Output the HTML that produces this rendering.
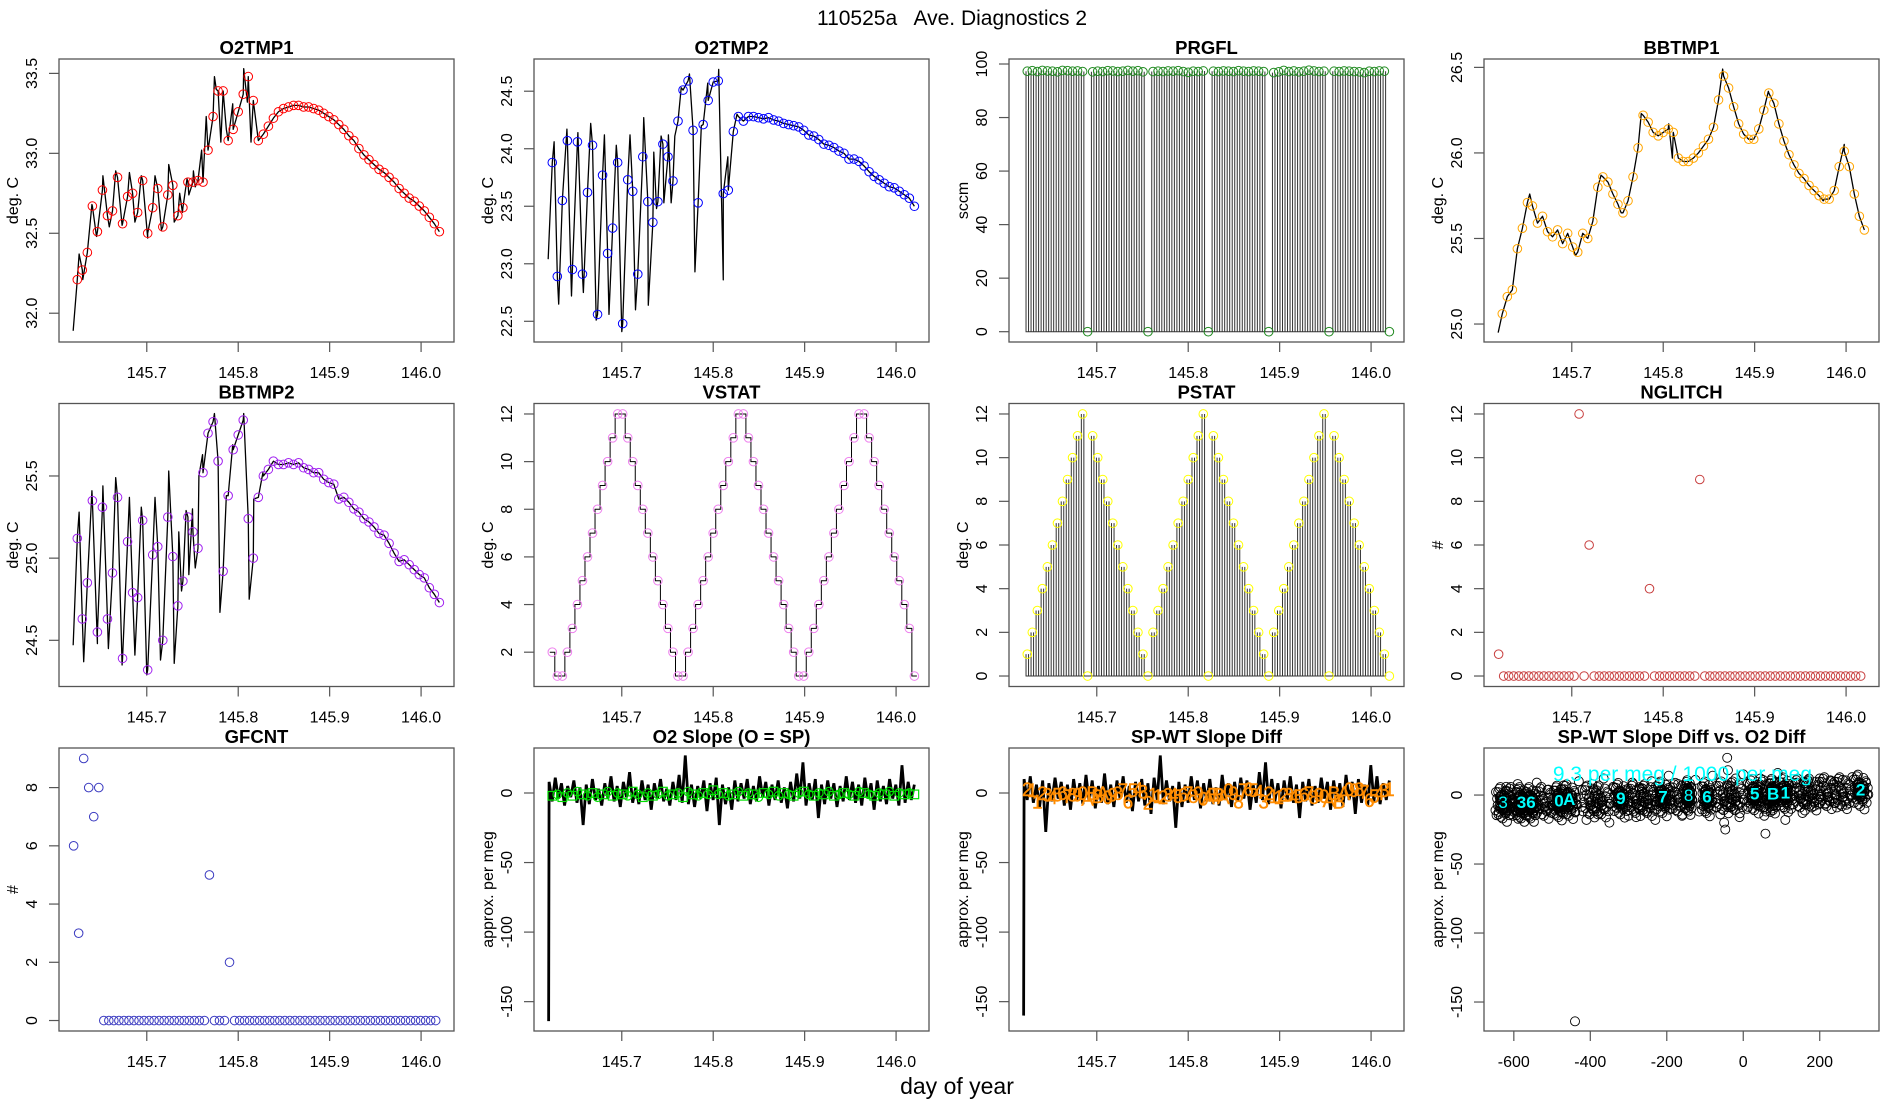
<!DOCTYPE html>
<html><head><meta charset="utf-8"><title>110525a Ave. Diagnostics 2</title>
<style>
html,body{margin:0;padding:0;background:#fff;}
svg{display:block;font-family:"Liberation Sans",Arial,sans-serif;}
</style></head>
<body>
<svg id="chart" width="1900" height="1100" viewBox="0 0 1900 1100" xmlns="http://www.w3.org/2000/svg">
<rect x="0" y="0" width="1900" height="1100" fill="#fff"/>
<text x="952" y="25" text-anchor="middle" font-size="21" style="white-space:pre">110525a   Ave. Diagnostics 2</text>
<text x="957" y="1094" text-anchor="middle" font-size="23">day of year</text>
</svg>
<script>
// ---------- data ----------
const timeTicks = [145.7, 145.8, 145.9, 146.0];
const timeTickLabels = ['145.7', '145.8', '145.9', '146.0'];

const o2tmp1Circ = [32.21,32.27,32.38,32.67,32.51,32.77,32.61,32.64,32.85,32.56,32.73,32.75,32.63,32.83,32.50,32.66,32.78,32.54,32.74,32.80,32.61,32.66,32.82,32.82,32.83,32.82,33.02,33.23,33.39,33.39,33.08,33.15,33.26,33.37,33.48,33.33,33.08,33.12,33.17,33.22,33.26,33.28,33.29,33.30,33.30,33.29,33.29,33.28,33.27,33.25,33.23,33.21,33.18,33.15,33.11,33.08,33.03,32.99,32.96,32.93,32.90,32.88,32.85,32.82,32.78,32.75,32.72,32.70,32.67,32.64,32.60,32.56,32.51];
const o2tmp1LineT = [145.6195,145.626,145.630,145.640,145.645,145.652,145.659,145.666,145.673,145.681,145.687,145.694,145.701,145.709,145.716,145.724,145.730,145.736,145.739,145.744,145.746,145.751,145.753,145.760,145.765,145.774,145.776,145.781,145.787,145.794,145.806,145.810,145.814];
const o2tmp1LineV = [31.89,32.37,32.21,32.68,32.48,32.86,32.54,32.89,32.55,32.88,32.57,32.86,32.47,32.86,32.52,32.93,32.57,32.75,32.63,32.84,32.74,32.89,32.79,33.02,33.23,33.48,33.40,33.07,33.15,33.31,33.53,33.32,33.07];

const o2tmp2Circ = [23.88,22.89,23.55,24.07,22.95,24.06,22.91,23.62,24.03,22.56,23.77,23.09,23.31,23.88,22.48,23.73,23.63,22.91,23.93,23.54,23.36,23.54,24.04,23.93,23.72,24.24,24.51,24.59,24.16,23.53,24.21,24.42,24.58,24.59,23.61,23.64,24.15,24.28,24.24,24.28,24.28,24.27,24.26,24.27,24.25,24.24,24.22,24.21,24.20,24.19,24.16,24.12,24.11,24.08,24.04,24.03,24.01,23.98,23.96,23.91,23.91,23.89,23.85,23.80,23.76,23.73,23.70,23.67,23.66,23.63,23.60,23.57,23.50];
const o2tmp2LineT = [145.6195,145.626,145.631,145.640,145.645,145.652,145.658,145.666,145.672,145.681,145.686,145.694,145.700,145.709,145.715,145.724,145.729,145.735,145.738,145.743,145.746,145.751,145.754,145.758,145.765,145.774,145.780,145.787,145.794,145.806,145.811,145.816,145.826];
const o2tmp2LineV = [23.04,24.06,22.65,24.17,22.72,24.14,22.75,24.22,22.51,24.12,22.56,24.03,22.41,24.12,22.60,24.27,22.64,23.97,23.48,24.11,23.53,24.12,23.53,24.11,24.53,24.65,22.93,24.20,24.57,24.69,22.86,23.93,24.30];

const prgflCirc = [97.3,97.5,97.2,97.6,97.4,97.3,97.1,97.6,97.5,97.3,97.4,97.2,0,97.1,97.3,97.2,97.5,97.4,97.2,97.3,97.6,97.3,97.5,97.1,0,97.2,97.3,97.2,97.4,97.3,97.5,97.2,96.9,97.3,97.2,97.4,0,97.3,97.2,97.4,97.3,97.2,97.5,97.3,97.2,97.4,97.3,97.2,0,96.8,97.1,97.6,97.2,97.4,97.1,97.3,97.7,97.4,97.2,97.3,0,97.3,97.2,97.4,97.3,97.2,97.1,96.8,97.3,97.2,97.4,97.3,0];

const bbtmp1Circ = [25.06,25.16,25.20,25.44,25.56,25.71,25.69,25.59,25.63,25.54,25.51,25.55,25.47,25.53,25.45,25.42,25.53,25.50,25.60,25.80,25.86,25.83,25.76,25.70,25.65,25.72,25.86,26.03,26.22,26.18,26.12,26.10,26.12,26.14,26.12,25.97,25.95,25.95,25.97,26.00,26.04,26.08,26.15,26.31,26.45,26.38,26.27,26.17,26.11,26.08,26.08,26.14,26.25,26.35,26.29,26.17,26.07,25.99,25.93,25.88,25.85,25.81,25.78,25.75,25.73,25.73,25.78,25.92,26.01,25.92,25.76,25.63,25.55];
const bbtmp1LineT = [145.6195,145.654,145.704,145.732,145.754,145.776,145.806,145.810,145.865,145.915,145.975,145.998];
const bbtmp1LineV = [24.95,25.76,25.40,25.87,25.65,26.23,26.17,25.97,26.49,26.36,25.72,26.05];

const bbtmp2Circ = [25.12,24.63,24.85,25.35,24.55,25.31,24.63,24.91,25.37,24.39,25.10,24.79,24.76,25.23,24.32,25.02,25.07,24.50,25.25,25.01,24.71,24.86,25.25,25.16,25.06,25.52,25.76,25.83,25.59,24.92,25.38,25.66,25.75,25.84,25.24,25.00,25.37,25.50,25.54,25.59,25.57,25.57,25.58,25.57,25.58,25.55,25.54,25.52,25.52,25.48,25.46,25.45,25.36,25.37,25.34,25.30,25.28,25.24,25.22,25.19,25.15,25.14,25.09,25.03,24.98,24.99,24.96,24.93,24.90,24.88,24.82,24.78,24.73];
const bbtmp2LineT = [145.6195,145.626,145.631,145.640,145.646,145.652,145.658,145.666,145.673,145.681,145.687,145.694,145.700,145.709,145.715,145.724,145.730,145.735,145.738,145.743,145.746,145.750,145.753,145.757,145.761,145.774,145.780,145.787,145.794,145.806,145.812,145.817,145.827];
const bbtmp2LineV = [24.47,25.28,24.37,25.41,24.48,25.44,24.45,25.49,24.35,25.37,24.41,25.31,24.29,25.37,24.38,25.53,24.36,25.16,24.80,25.29,24.90,25.30,24.94,25.50,25.63,25.88,24.67,25.38,25.69,25.88,24.75,25.36,25.52];

const vstat = [2,1,1,2,3,4,5,6,7,8,9,10,11,12,12,11,10,9,8,7,6,5,4,3,2,1,1,2,3,4,5,6,7,8,9,10,11,12,12,11,10,9,8,7,6,5,4,3,2,1,1,2,3,4,5,6,7,8,9,10,11,12,12,11,10,9,8,7,6,5,4,3,1];
const pstat = [1,2,3,4,5,6,7,8,9,10,11,12,0,11,10,9,8,7,6,5,4,3,2,1,0,2,3,4,5,6,7,8,9,10,11,12,0,11,10,9,8,7,6,5,4,3,2,1,0,2,3,4,5,6,7,8,9,10,11,12,0,11,10,9,8,7,6,5,4,3,2,1,0];
const nglitch = [1,0,0,0,0,0,0,0,0,0,0,0,0,0,0,0,12,0,6,0,0,0,0,0,0,0,0,0,0,0,4,0,0,0,0,0,0,0,0,0,9,0,0,0,0,0,0,0,0,0,0,0,0,0,0,0,0,0,0,0,0,0,0,0,0,0,0,0,0,0,0,0,0];
const gfcnt = [6,3,9,8,7,8,0,0,0,0,0,0,0,0,0,0,0,0,0,0,0,0,0,0,0,0,0,5,0,0,0,2,0,0,0,0,0,0,0,0,0,0,0,0,0,0,0,0,0,0,0,0,0,0,0,0,0,0,0,0,0,0,0,0,0,0,0,0,0,0,0,0,0];

const o2Slope = [-164,8,-6,11,-4,7,-9,5,-3,9,-7,4,-23,6,-8,10,-5,3,-9,7,-4,12,-6,5,-10,8,-3,15,-7,4,-8,9,-5,6,-12,7,-4,10,-6,3,-9,8,-5,13,-7,27,-8,6,-10,5,-4,9,-13,7,-5,11,-23,6,-8,4,-12,9,-6,7,-4,10,-8,5,-6,12,-3,8,-9,6,-5,9,-7,4,-11,8,-6,14,-4,22,-9,7,-5,10,-18,6,-8,9,-4,7,-10,5,-6,12,-5,8,-7,6,-9,11,-4,7,-12,9,-6,5,-8,10,-4,6,-9,20,-7,8,-5,6];
const o2SlopeSym = [-2,-1,-3,0,-2,1,-1,-2,0,-3,-1,1,-2,0,-1,-2,1,-1,-3,0,-2,-1,1,-2,-1,0,-3,1,-1,-2,0,-1,2,-1,0,-2,-1,1,-2,0,-1,-3,0,-1,1,-2,0,-1,-2,0,1,-1,-2,0,-1,1,-2,-1,0,-1,-2,1,0,-1,-2,0,-1,1,-2,0,-1,0,-1];
const spwtDiff = [-160,10,-5,12,-7,6,-10,9,-28,7,-6,11,-4,8,-9,6,-12,10,-5,7,-8,13,-6,9,-11,5,-7,14,-8,6,-10,9,-4,12,-7,5,-13,8,-6,10,-9,7,-15,11,-5,27,-8,9,-6,5,-25,8,-10,6,-7,12,-5,9,-11,7,-6,10,-8,4,-9,13,-5,7,-10,8,-6,11,-4,9,-12,6,-7,15,-5,22,-8,10,-6,7,-11,9,-5,12,-7,6,-18,8,-6,10,-9,5,-7,11,-4,8,-12,9,-6,7,-10,13,-5,8,-15,10,-7,6,-9,20,-6,12,-8,7,-5,9];
const spwtSym = [3,2,-6,0,-1,-3,-1,0,-2,-1,-1,0,-4,0,-2,0,-3,-1,0,2,-6,2,3,1,-7,-1,-2,-3,-1,-1,-2,-1,0,-2,0,-4,-3,-1,-1,-3,2,0,-6,2,3,2,1,-6,0,-2,-3,-1,-1,-2,-2,-1,0,-3,-1,-2,-5,0,-6,0,3,2,3,1,-5,-2,0,2,3];

const clusterX = [-628,-580,-555,-482,-455,-320,-210,-143,-95,30,78,110,307];
const clusterY = [-5,-5,-5,-4,-3,-2,-1,0,-1,1,1,2,4];
const clusterW = [20,15,15,15,20,20,20,10,15,20,10,15,20];
const clusterLabels = ['3','3','6','0','A','9','7','8','6','5','B','1','2'];
const bandX = [-600,-520,-400,-370,-280,-250,-170,-50,-20,60,150,180,220,260];
const bandY = [-4,-4,-3,-3,-2,-2,-1,0,0,1,2,2,3,3];
const jitterDx = [-12,-8,-4,0,4,8,12,-10,-6,-2,2,6,10,-14,-9,-3,3,9,14,-7,-1,5,11,-11,-5,1,7,13,-13,0];
const jitterDy = [-8,-6,-9,-4,-7,-5,-3,-2,3,1,-1,2,4,-5,6,0,-6,5,-3,8,-10,7,-8,2,9,-4,-12,1,6,-2];
const bgX = [-640,-620,-600,-590,-565,-540,-525,-510,-500,-470,-440,-430,-410,-395,-380,-365,-350,-340,-300,-290,-280,-265,-250,-240,-230,-195,-185,-170,-160,-125,-115,-80,-70,-60,-50,-40,-30,-20,-10,0,10,45,55,60,90,125,140,155,170,185,200,215,230,245,260,270,285];
const bgY = [-14,6,-12,8,-15,9,-10,4,-8,7,-12,10,-18,8,-14,12,-20,6,-15,9,-16,5,-12,10,-18,14,-10,8,-15,11,-12,14,-9,-14,-20,18,-8,12,-16,15,-10,12,-15,-12,16,-10,9,-13,10,-8,12,-6,10,-9,11,-7,13];
const outX = [-440,-47,58,-42,110];
const outY = [-164,-25,-28,27,-18];
const diffTicks = [-600,-400,-200,0,200];
const slopeTicks = [0,-50,-100,-150];

// ---------- drawing ----------
const NS = 'http://www.w3.org/2000/svg';
const svg = document.getElementById('chart');
const T0 = 145.624, DT = 0.0055;
const circT = vstat.map((_, i) => T0 + i * DT);
function mk(tag, parent, attrs) {
  const e = document.createElementNS(NS, tag);
  for (const k in attrs) e.setAttribute(k, attrs[k]);
  parent.appendChild(e);
  return e;
}
function pathOf(pts, sx, sy) {
  return pts.map((p, i) => (i ? 'L' : 'M') + sx(p[0]).toFixed(2) + ' ' + sy(p[1]).toFixed(2)).join('');
}
function panel(col, row, o) {
  const L = 59 + 475 * col, T = 59 + 344.5 * row, W = 395, H = 283;
  const g = mk('g', svg, {});
  
  
  const xmin = o.xmin !== undefined ? o.xmin : 145.604, xmax = o.xmax !== undefined ? o.xmax : 146.036;
  const sx = v => L + (v - xmin) / (xmax - xmin) * W;
  const sy = v => T + H - (v - o.ymin) / (o.ymax - o.ymin) * H;
  const fr = mk('rect', g, {x: L, y: T, width: W, height: H, fill: 'none', stroke: '#555', 'stroke-width': 1.3});
  
  
  const tt = mk('text', g, {x: L + W / 2, y: T - 5, 'text-anchor': 'middle', 'font-size': 18.5, 'font-weight': 'bold'});
  tt.textContent = o.title;
  
  
  const xt = o.xticks || timeTicks, xl = o.xlabels || timeTickLabels;
  xt.forEach((v, i) => {
    const tk = mk('line', g, {x1: sx(v), x2: sx(v), y1: T + H, y2: T + H + 10, stroke: '#555', 'stroke-width': 1.2});
    
    
    const lb = mk('text', g, {x: sx(v), y: T + H + 36, 'text-anchor': 'middle', 'font-size': 16});
    lb.textContent = xl[i];
    
    
  });
  o.yticks.forEach((v, i) => {
    const y = sy(v);
    const tk = mk('line', g, {x1: L - 10, x2: L, y1: y, y2: y, stroke: '#555', 'stroke-width': 1.2});
    
    
    const lb = mk('text', g, {x: L - 22, y: y, 'text-anchor': 'middle', 'font-size': 16, transform: 'rotate(-90 ' + (L - 22) + ' ' + y + ')'});
    lb.textContent = o.ylabels[i];
    
    
  });
  const yt = mk('text', g, {x: L - 41, y: T + H / 2, 'text-anchor': 'middle', 'font-size': 16, transform: 'rotate(-90 ' + (L - 41) + ' ' + (T + H / 2) + ')'});
  yt.textContent = o.ylab;
  
  
  return {g, sx, sy};
}
function circles(p, ts, vs, color, name) {
  vs.forEach((v, i) => {
    if (v === null) return;
    const c = mk('circle', p.g, {cx: p.sx(ts[i]), cy: p.sy(v), r: 4.3, fill: 'none', stroke: color, 'stroke-width': 1});
    
    
  });
}
function tempLine(p, lt, lv, circV, cutoff) {
  const pts = lt.map((t, i) => [t, lv[i]]);
  circV.forEach((v, i) => { if (circT[i] >= cutoff) pts.push([circT[i], v]); });
  pts.sort((a, b) => a[0] - b[0]);
  const ln = mk('path', p.g, {d: pathOf(pts, p.sx, p.sy), fill: 'none', stroke: '#000', 'stroke-width': 1.3, 'stroke-linejoin': 'round'});
  
  
}
function spikes(p, vals, name) {
  const pts = [];
  vals.forEach((v, i) => {
    if (v <= 0) return;
    [-0.25, 0.25].forEach(k => {
      const t = circT[i] + k * DT;
      pts.push([t, 0], [t, v], [t, 0]);
    });
  });
  const ln = mk('path', p.g, {d: pathOf(pts, p.sx, p.sy), fill: 'none', stroke: '#333', 'stroke-width': 1});
  
  
}
function noiseLine(p, vals) {
  const n = vals.length;
  const pts = vals.map((v, i) => [i === 0 ? 145.62 : 145.6205 + (i - 1) * 0.3995 / (n - 2), v]);
  const ln = mk('path', p.g, {d: pathOf(pts, p.sx, p.sy), fill: 'none', stroke: '#000', 'stroke-width': 2.8});
  
  
}
const degLab = 'deg. C';
// Row 0
let p = panel(0, 0, {name: 'panel-o2tmp1', title: 'O2TMP1', ylab: degLab, ymin: 31.82, ymax: 33.59, yticks: [32, 32.5, 33, 33.5], ylabels: ['32.0', '32.5', '33.0', '33.5']});
tempLine(p, o2tmp1LineT, o2tmp1LineV, o2tmp1Circ, 0);
circles(p, circT, o2tmp1Circ, '#ff0000', 'o2tmp1-point');

p = panel(1, 0, {name: 'panel-o2tmp2', title: 'O2TMP2', ylab: degLab, ymin: 22.32, ymax: 24.78, yticks: [22.5, 23, 23.5, 24, 24.5], ylabels: ['22.5', '23.0', '23.5', '24.0', '24.5']});
tempLine(p, o2tmp2LineT, o2tmp2LineV, o2tmp2Circ, 0);
circles(p, circT, o2tmp2Circ, '#0000ff', 'o2tmp2-point');

p = panel(2, 0, {name: 'panel-prgfl', title: 'PRGFL', ylab: 'sccm', ymin: -3.85, ymax: 101.87, yticks: [0, 20, 40, 60, 80, 100], ylabels: ['0', '20', '40', '60', '80', '100']});
spikes(p, prgflCirc, 'prgfl-line');
circles(p, circT, prgflCirc, '#228b22', 'prgfl-point');

p = panel(3, 0, {name: 'panel-bbtmp1', title: 'BBTMP1', ylab: degLab, ymin: 24.895, ymax: 26.549, yticks: [25, 25.5, 26, 26.5], ylabels: ['25.0', '25.5', '26.0', '26.5']});
tempLine(p, bbtmp1LineT, bbtmp1LineV, bbtmp1Circ, 0);
circles(p, circT, bbtmp1Circ, '#ffa500', 'bbtmp1-point');

// Row 1
p = panel(0, 1, {name: 'panel-bbtmp2', title: 'BBTMP2', ylab: degLab, ymin: 24.219, ymax: 25.941, yticks: [24.5, 25, 25.5], ylabels: ['24.5', '25.0', '25.5']});
tempLine(p, bbtmp2LineT, bbtmp2LineV, bbtmp2Circ, 0);
circles(p, circT, bbtmp2Circ, '#a020f0', 'bbtmp2-point');

p = panel(1, 1, {name: 'panel-vstat', title: 'VSTAT', ylab: degLab, ymin: 0.56, ymax: 12.44, yticks: [2, 4, 6, 8, 10, 12], ylabels: ['2', '4', '6', '8', '10', '12']});
{
  const pts = [];
  vstat.forEach((v, i) => { pts.push([circT[i] - DT / 2, v], [circT[i] + DT / 2, v]); });
  const ln = mk('path', p.g, {d: pathOf(pts, p.sx, p.sy), fill: 'none', stroke: '#000', 'stroke-width': 1});
  
  
}
circles(p, circT, vstat, '#ee82ee', 'vstat-point');

p = panel(2, 1, {name: 'panel-pstat', title: 'PSTAT', ylab: degLab, ymin: -0.48, ymax: 12.48, yticks: [0, 2, 4, 6, 8, 10, 12], ylabels: ['0', '2', '4', '6', '8', '10', '12']});
spikes(p, pstat, 'pstat-line');
circles(p, circT, pstat, '#ffff00', 'pstat-point');

p = panel(3, 1, {name: 'panel-nglitch', title: 'NGLITCH', ylab: '#', ymin: -0.48, ymax: 12.48, yticks: [0, 2, 4, 6, 8, 10, 12], ylabels: ['0', '2', '4', '6', '8', '10', '12']});
circles(p, circT.map(t => t - 0.004), nglitch, '#c84040', 'nglitch-point');

// Row 2
p = panel(0, 2, {name: 'panel-gfcnt', title: 'GFCNT', ylab: '#', ymin: -0.36, ymax: 9.36, yticks: [0, 2, 4, 6, 8], ylabels: ['0', '2', '4', '6', '8']});
circles(p, circT.map(t => t - 0.004), gfcnt, '#3a3ac0', 'gfcnt-point');

p = panel(1, 2, {name: 'panel-o2-slope', title: 'O2 Slope (O = SP)', ylab: 'approx. per meg', ymin: -171.1, ymax: 32.35, yticks: slopeTicks, ylabels: ['0', '-50', '-100', '-150']});
noiseLine(p, o2Slope);
o2SlopeSym.forEach((v, i) => {
  const x = p.sx(circT[i]), y = p.sy(v);
  let s;
  if (i % 2 === 0) s = mk('rect', p.g, {x: x - 4.3, y: y - 4.3, width: 8.6, height: 8.6, fill: 'none', stroke: '#00e000', 'stroke-width': 1.2});
  else s = mk('circle', p.g, {cx: x, cy: y, r: 4.3, fill: 'none', stroke: '#00e000', 'stroke-width': 1.2});
  
  
});

p = panel(2, 2, {name: 'panel-spwt-slope-diff', title: 'SP-WT Slope Diff', ylab: 'approx. per meg', ymin: -171.1, ymax: 32.35, yticks: slopeTicks, ylabels: ['0', '-50', '-100', '-150']});
noiseLine(p, spwtDiff);
const symChar = v => v === 10 ? '0' : v === 11 ? 'A' : v === 12 ? 'B' : String(v);
spwtSym.forEach((v, i) => {
  const t = mk('text', p.g, {x: p.sx(circT[i]), y: p.sy(v) + 7, 'text-anchor': 'middle', 'font-size': 19, fill: '#ff8c00', stroke: '#ff8c00', 'stroke-width': 0.4});
  t.textContent = symChar(vstat[i]);
  
  
});

p = panel(3, 2, {name: 'panel-slope-vs-o2-diff', title: 'SP-WT Slope Diff vs. O2 Diff', ylab: 'approx. per meg', xmin: -678, xmax: 355, xticks: diffTicks, xlabels: ['-600', '-400', '-200', '0', '200'], ymin: -171, ymax: 34.1, yticks: slopeTicks, ylabels: ['0', '-50', '-100', '-150']});
function scatterPt(x, y) {
  const c = mk('circle', p.g, {cx: p.sx(x), cy: p.sy(y), r: 4.5, fill: 'none', stroke: '#000', 'stroke-width': 0.9});
  
  
}
bgX.forEach((x, i) => scatterPt(x, bgY[i]));
bandX.forEach((cx, c) => {
  jitterDx.forEach((dx, k) => scatterPt(cx + dx * 1.6, bandY[c] + jitterDy[k] * 1.1));
});
clusterX.forEach((cx, c) => {
  jitterDx.forEach((dx, k) => scatterPt(cx + dx * clusterW[c] / 14, clusterY[c] + jitterDy[k] * 1.2));
  jitterDx.forEach((dx, k) => scatterPt(cx + dx * clusterW[c] / 28, clusterY[c] + jitterDy[k] * 0.6));
});
outX.forEach((x, i) => scatterPt(x, outY[i]));
clusterX.forEach((cx, c) => {
  const t = mk('text', p.g, {x: p.sx(cx), y: p.sy(clusterY[c]) + 6, 'text-anchor': 'middle', 'font-size': 17, 'font-weight': c === 0 || c === 7 ? 'normal' : 'bold', fill: '#00ffff'});
  t.textContent = clusterLabels[c];
  
  
});
{
  const t = mk('text', p.g, {x: p.sx(-159), y: p.sy(16) + 8, 'text-anchor': 'middle', 'font-size': 21, fill: '#00ffff'});
  t.textContent = '9.3 per meg / 1000 per meg';
  
  
}
</script>
</body></html>
